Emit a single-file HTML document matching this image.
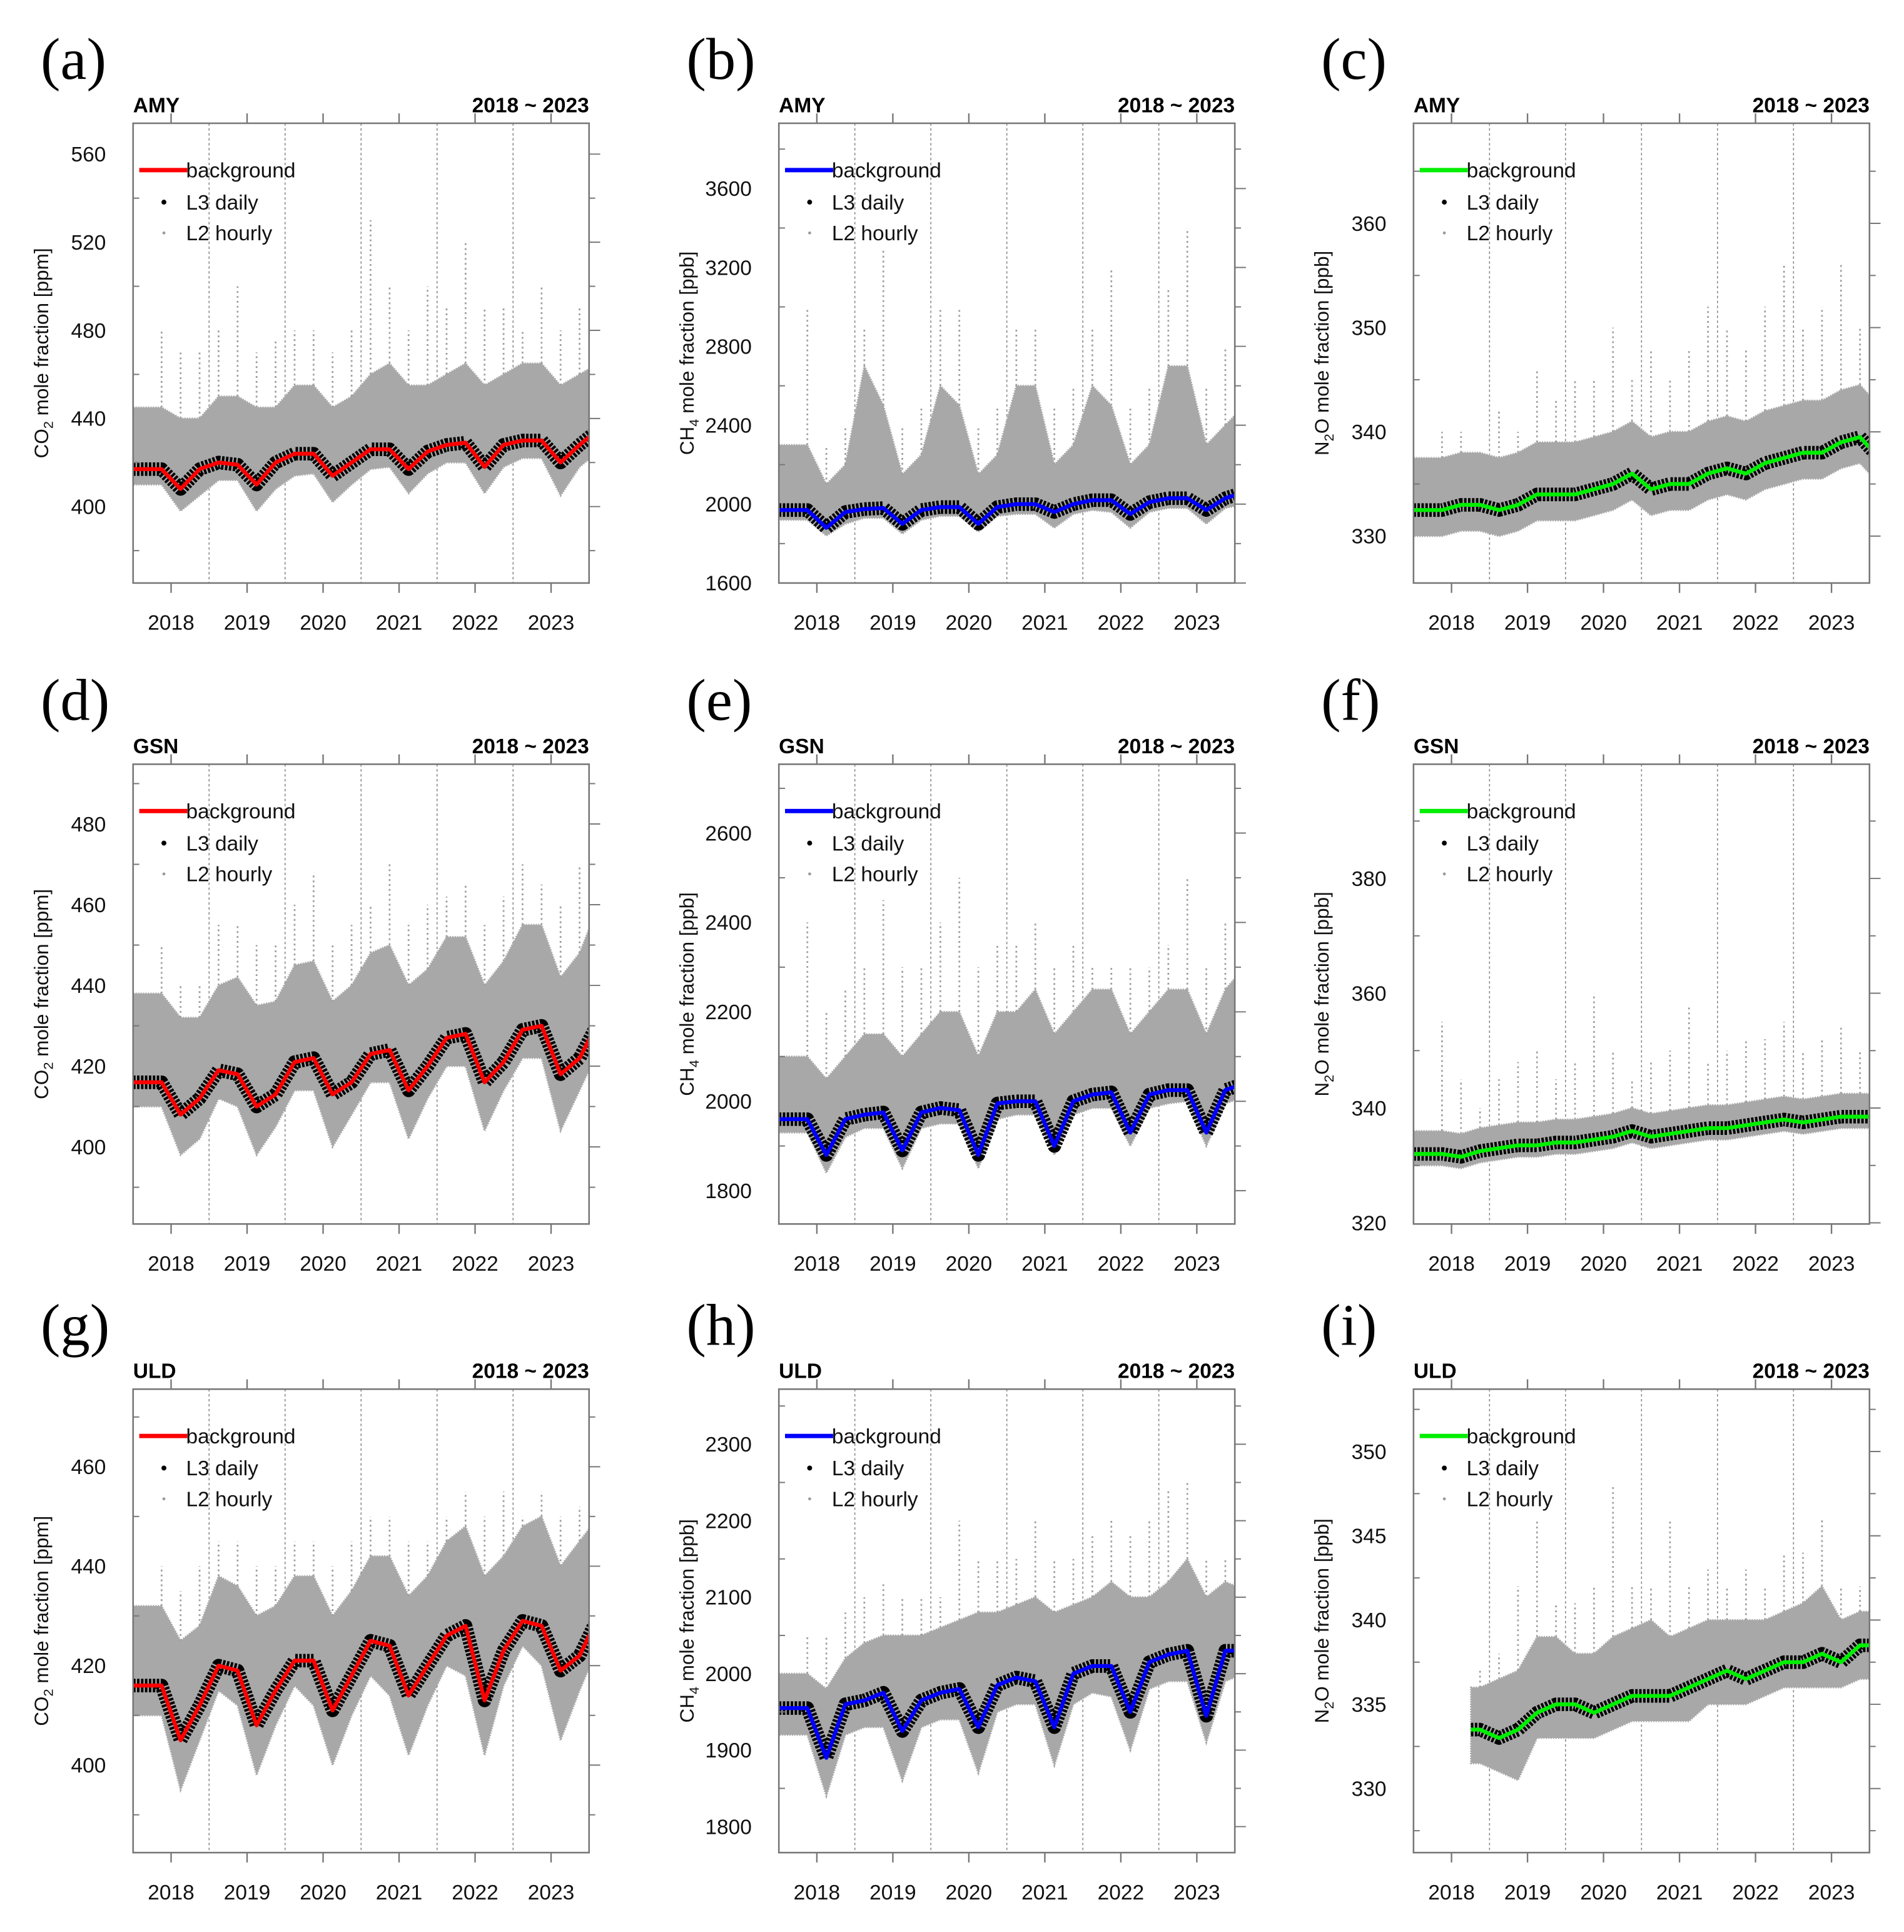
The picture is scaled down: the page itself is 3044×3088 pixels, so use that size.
<!DOCTYPE html>
<html><head><meta charset="utf-8"><style>
html,body{margin:0;padding:0;background:#fff;}
svg{display:block;}
text{font-family:"Liberation Sans",Arial,sans-serif;}
</style></head><body>
<svg id="fig" xmlns="http://www.w3.org/2000/svg" width="3044" height="3088" viewBox="0 0 1545 1567.4" preserveAspectRatio="none"></svg>
<script>
// ---- data (quarterly estimates) ----
const aBg=[417,408,417,420,419,410,420,424,424,414,420,426,426,417,425,428,429,418,428,430,430,420,428,435];
const aHi=[445,440,440,450,450,445,445,455,455,445,450,460,465,455,455,460,465,455,460,465,465,455,460,465];
const aLo=[410,398,405,412,412,398,408,414,415,402,410,417,418,406,415,420,420,406,418,422,422,405,418,425];
const aPk=[480,470,470,480,500,470,475,480,480,470,480,530,500,480,500,490,520,490,490,480,500,480,490,480];
const bBg=[1970,1880,1960,1975,1980,1900,1970,1985,1985,1900,1985,2000,2000,1960,2000,2020,2020,1950,2010,2030,2030,1970,2030,2060];
const bHi=[2300,2100,2200,2700,2500,2150,2250,2600,2500,2150,2250,2600,2600,2200,2300,2600,2500,2200,2300,2700,2700,2300,2400,2500];
const bLo=[1920,1840,1900,1930,1930,1850,1920,1940,1940,1860,1940,1950,1950,1880,1950,1970,1960,1880,1960,1980,1980,1900,1980,2000];
const bPk=[3000,2300,2400,2900,3300,2400,2500,3000,3000,2400,2500,2900,2900,2500,2600,2900,3200,2500,2600,3100,3400,2600,2800,2700];
const cBg=[332.5,333,333,332.5,333,334,334,334,334.5,335,336,334.5,335,335,336,336.5,336,337,337.5,338,338,339,339.5,337.5];
const cHi=[337.5,338,338,337.5,338,339,339,339,339.5,340,341,339.5,340,340,341,341.5,341,342,342.5,343,343,344,344.5,342.5];
const cLo=[330,330.5,330.5,330,330.5,331.5,331.5,331.5,332,332.5,333.5,332,332.5,332.5,333.5,334,333.5,334.5,335,335.5,335.5,336.5,337,335];
const cPk=[340,340,338,342,340,346,343,345,345,350,345,348,345,348,352,350,348,352,356,350,352,356,350,345];
const dBg=[416,408,412,419,418,410,413,421,422,413,416,423,424,414,420,427,428,416,421,429,430,418,422,431];
const dHi=[438,432,432,440,442,435,436,445,446,436,440,448,450,440,444,452,452,440,446,455,455,442,448,460];
const dLo=[410,398,402,412,410,398,405,414,414,400,408,416,416,402,412,420,420,404,414,422,422,404,414,424];
const dPk=[450,440,440,455,455,450,450,460,468,450,455,460,470,455,460,462,465,455,462,470,465,460,470,472];
const eBg=[1960,1880,1960,1970,1975,1890,1975,1985,1980,1880,1995,2000,2000,1900,2000,2015,2020,1930,2015,2025,2025,1930,2025,2040];
const eHi=[2100,2050,2100,2150,2150,2100,2150,2200,2200,2100,2200,2200,2250,2150,2200,2250,2250,2150,2200,2250,2250,2150,2250,2300];
const eLo=[1930,1840,1920,1940,1940,1850,1940,1950,1950,1850,1960,1970,1970,1880,1970,1985,1985,1900,1985,1995,2000,1900,1995,2010];
const ePk=[2400,2200,2250,2300,2450,2300,2300,2400,2500,2300,2350,2350,2400,2300,2350,2300,2300,2300,2300,2350,2500,2300,2400,2300];
const fBg=[332,331.5,332.5,333,333.5,333.5,334,334,334.5,335,336,335,335.5,336,336.5,336.5,337,337.5,338,337.5,338,338.5,338.5,338.5];
const fHi=[336,335.5,336.5,337,337.5,337.5,338,338,338.5,339,340,339,339.5,340,340.5,340.5,341,341.5,342,341.5,342,342.5,342.5,342.5];
const fLo=[330,329.5,330.5,331,331.5,331.5,332,332,332.5,333,334,333,333.5,334,334.5,334.5,335,335.5,336,335.5,336,336.5,336.5,336.5];
const fPk=[355,345,340,345,348,350,345,348,360,350,345,348,350,358,348,350,352,352,355,350,352,354,350,345];
const gBg=[416,405,412,420,419,408,415,421,421,411,418,425,424,414,420,426,428,413,423,429,428,419,422,430];
const gHi=[432,425,428,438,436,430,432,438,438,430,435,442,442,434,438,445,448,438,442,448,450,440,445,450];
const gLo=[410,395,405,415,412,398,408,416,412,400,410,418,414,402,412,420,418,402,416,424,420,405,415,424];
const gPk=[440,435,440,445,445,440,440,445,445,440,445,450,450,445,445,450,455,450,455,450,455,450,452,455];
const hBg=[1955,1890,1960,1965,1975,1925,1965,1975,1980,1930,1985,1995,1990,1930,2000,2010,2010,1950,2015,2025,2030,1945,2030,2030];
const hHi=[2000,1980,2020,2040,2050,2050,2050,2060,2070,2080,2080,2090,2100,2080,2090,2100,2120,2100,2100,2120,2150,2100,2120,2110];
const hLo=[1920,1840,1920,1930,1930,1860,1930,1940,1940,1870,1950,1960,1960,1880,1960,1975,1970,1900,1980,1990,1990,1910,1990,2000];
const hPk=[2050,2050,2080,2100,2120,2100,2100,2100,2200,2150,2150,2150,2200,2150,2150,2180,2200,2180,2200,2240,2250,2150,2150,2150];
const iBg=[null,null,333.5,333,333.5,334.5,335,335,334.5,335,335.5,335.5,335.5,336,336.5,337,336.5,337,337.5,337.5,338,337.5,338.5,338.5];
const iHi=[null,null,336,336.5,337,339,339,338,338,339,339.5,340,339,339.5,340,340,340,340,340.5,341,342,340,340.5,340.5];
const iLo=[null,null,331.5,331,330.5,333,333,333,333,333.5,334,334,334,334,335,335,335,335.5,336,336,336,336,336.5,336.5];
const iPk=[null,null,337,338,342,346,341,341,342,348,342,342,346,342,343,342,343,342,344,344,346,342,342,342];
const yTicksA=[400,440,480,520,560], yTicksB=[1600,2000,2400,2800,3200,3600], yTicksC=[330,340,350,360];
const yTicksD=[400,420,440,460,480], yTicksE=[1800,2000,2200,2400,2600], yTicksF=[320,340,360,380];
const yTicksG=[400,420,440,460], yTicksH=[1800,1900,2000,2100,2200,2300], yTicksI=[330,335,340,345,350];
const years=[2018,2019,2020,2021,2022,2023];

const cols=[108,632,1147], rows=[100,620,1127], W=370, Hs=[373,373,376];
const P=[
 {id:'a',st:'AMY',g:['CO','2',''],u:'ppm',col:'#ff0000',c:0,r:0,y0:365.3,y1:574,ticks:yTicksA,minor:20,bg:aBg,hi:aHi,lo:aLo,pk:aPk},
 {id:'b',st:'AMY',g:['CH','4',''],u:'ppb',col:'#0000ff',c:1,r:0,y0:1600,y1:3931,ticks:yTicksB,minor:200,bg:bBg,hi:bHi,lo:bLo,pk:bPk},
 {id:'c',st:'AMY',g:['N','2','O'],u:'ppb',col:'#00ee00',c:2,r:0,y0:325.5,y1:369.6,ticks:yTicksC,minor:5,bg:cBg,hi:cHi,lo:cLo,pk:cPk},
 {id:'d',st:'GSN',g:['CO','2',''],u:'ppm',col:'#ff0000',c:0,r:1,y0:380.9,y1:494.8,ticks:yTicksD,minor:10,bg:dBg,hi:dHi,lo:dLo,pk:dPk},
 {id:'e',st:'GSN',g:['CH','4',''],u:'ppb',col:'#0000ff',c:1,r:1,y0:1725.5,y1:2754,ticks:yTicksE,minor:100,bg:eBg,hi:eHi,lo:eLo,pk:ePk},
 {id:'f',st:'GSN',g:['N','2','O'],u:'ppb',col:'#00ee00',c:2,r:1,y0:319.8,y1:399.9,ticks:yTicksF,minor:10,bg:fBg,hi:fHi,lo:fLo,pk:fPk},
 {id:'g',st:'ULD',g:['CO','2',''],u:'ppm',col:'#ff0000',c:0,r:2,y0:382.4,y1:475.6,ticks:yTicksG,minor:10,bg:gBg,hi:gHi,lo:gLo,pk:gPk},
 {id:'h',st:'ULD',g:['CH','4',''],u:'ppb',col:'#0000ff',c:1,r:2,y0:1766,y1:2372,ticks:yTicksH,minor:50,bg:hBg,hi:hHi,lo:hLo,pk:hPk},
 {id:'i',st:'ULD',g:['N','2','O'],u:'ppb',col:'#00ee00',c:2,r:2,y0:326.2,y1:353.7,ticks:yTicksI,minor:2.5,bg:iBg,hi:iHi,lo:iLo,pk:iPk}
];
const NS='http://www.w3.org/2000/svg';
const svg=document.getElementById('fig');
function mk(tag,attrs,parent){const e=document.createElementNS(NS,tag);for(const k in attrs)e.setAttribute(k,attrs[k]);(parent||svg).appendChild(e);return e;}
const defs=mk('defs',{});

P.forEach(p=>{
 const L=cols[p.c],T=rows[p.r],H=Hs[p.r],B=T+H,R=L+W;
 const X=t=>L+(t-2018)/6*W;
 const Y=v=>B-(v-p.y0)/(p.y1-p.y0)*H;
 const tq=i=>2018+0.375+0.25*i;
 const cp=mk('clipPath',{id:'clip-'+p.id},defs);mk('rect',{x:L,y:T,width:W,height:H},cp);
 const g=mk('g',{});
 
 
 const lab=mk('text',{x:L-75,y:T-36,style:'font-family:"Liberation Serif",serif;font-size:48px;'},g);lab.textContent='('+p.id+')';
 
 const st=mk('text',{x:L,y:T-9,'font-size':17,'font-weight':'bold'},g);st.textContent=p.st;
 
 const pr=mk('text',{x:R,y:T-9,'font-size':17,'font-weight':'bold','text-anchor':'end'},g);pr.textContent='2018 ~ 2023';
 
 for(let yr=2019;yr<=2023;yr++){const l=mk('line',{x1:X(yr),x2:X(yr),y1:T,y2:B,stroke:'#888','stroke-width':0.8,'stroke-dasharray':'2 2'},g);
  }
 const dg=mk('g',{'clip-path':'url(#clip-'+p.id+')'},g);
 
 let up=[],dn=[];
 p.hi.forEach((v,i)=>{if(v!==null){up.push(X(tq(i))+','+Y(v));dn.unshift(X(tq(i))+','+Y(p.lo[i]));}});
 const idx=p.hi.map((v,i)=>v===null?null:i).filter(v=>v!==null);
 const i0=idx[0],i1=idx[idx.length-1];
 const xs=i0===0?L:X(tq(i0)-0.12), xe=R+20;
 up.unshift(xs+','+Y(p.hi[i0]));up.push(xe+','+Y(p.hi[i1]));
 dn.push(xs+','+Y(p.lo[i0]));dn.unshift(xe+','+Y(p.lo[i1]));
 const band=mk('polygon',{points:up.concat(dn).join(' '),fill:'#a8a8a8',stroke:'#a8a8a8','stroke-width':1.5,'stroke-dasharray':'1 1'},dg);
 
 p.pk.forEach((v,i)=>{if(v===null)return;
  const s=mk('line',{x1:X(tq(i)),x2:X(tq(i)),y1:Y(p.hi[i]),y2:Y(v),stroke:'#a0a0a0','stroke-width':1.4,'stroke-dasharray':'1.5 2.5'},dg);
  });
 let bp=[];p.bg.forEach((v,i)=>{if(v!==null)bp.push(X(tq(i))+','+Y(v));});
 bp.unshift(xs+','+Y(p.bg[i0]));bp.push(xe+','+Y(p.bg[i1]));
 const d=mk('polyline',{points:bp.join(' '),fill:'none',stroke:'#000','stroke-width':11,'stroke-dasharray':'2 1.2','stroke-linejoin':'round'},dg);
 
 const bl=mk('polyline',{points:bp.join(' '),fill:'none',stroke:p.col,'stroke-width':3.2,'stroke-linejoin':'round'},dg);
 
 const fr=mk('rect',{x:L,y:T,width:W,height:H,fill:'none',stroke:'#777','stroke-width':1.3},g);
 
 years.forEach(yr=>{const xm=X(yr+0.5);
  mk('line',{x1:xm,x2:xm,y1:B,y2:B+8,stroke:'#777','stroke-width':1.2},g);
  mk('line',{x1:xm,x2:xm,y1:T,y2:T-8,stroke:'#777','stroke-width':1.2},g);
  const t=mk('text',{x:xm,y:B+38,'font-size':17,'text-anchor':'middle',fill:'#111'},g);t.textContent=yr;
  });
 for(let v=Math.ceil(p.y0/p.minor)*p.minor;v<=p.y1;v+=p.minor){const yy=Y(v);
  const major=p.ticks.some(t=>Math.abs(t-v)<1e-6);
  mk('line',{x1:L,x2:L+(major?0:5),y1:yy,y2:yy,stroke:'#777','stroke-width':1},g);
  mk('line',{x1:R,x2:R+(major?9:5),y1:yy,y2:yy,stroke:'#777','stroke-width':1},g);}
 p.ticks.forEach(v=>{const t=mk('text',{x:L-22,y:Y(v)+6,'font-size':17,'text-anchor':'end',fill:'#111'},g);t.textContent=v;
  });
 const yt=mk('text',{transform:`translate(${L-69},${(T+B)/2}) rotate(-90)`,'font-size':16,'text-anchor':'middle',fill:'#111'},g);
 
 yt.appendChild(document.createTextNode(p.g[0]));
 const ts=mk('tspan',{'font-size':11,dy:4},yt);ts.textContent=p.g[1];
 const ts2=mk('tspan',{dy:-4},yt);ts2.textContent=p.g[2]+' mole fraction ['+p.u+']';
 const lg=mk('g',{},g);
 mk('line',{x1:L+5,x2:L+44,y1:T+38,y2:T+38,stroke:p.col,'stroke-width':3.5},lg);
 const t1=mk('text',{x:L+43,y:T+44,'font-size':17,fill:'#111'},lg);t1.textContent='background';
 mk('circle',{cx:L+25,cy:T+64,r:2,fill:'#000'},lg);
 const t2=mk('text',{x:L+43,y:T+70,'font-size':17,fill:'#111'},lg);t2.textContent='L3 daily';
 mk('circle',{cx:L+25,cy:T+89,r:1.2,fill:'#999'},lg);
 const t3=mk('text',{x:L+43,y:T+95,'font-size':17,fill:'#111'},lg);t3.textContent='L2 hourly';
});
</script>
</body></html>
